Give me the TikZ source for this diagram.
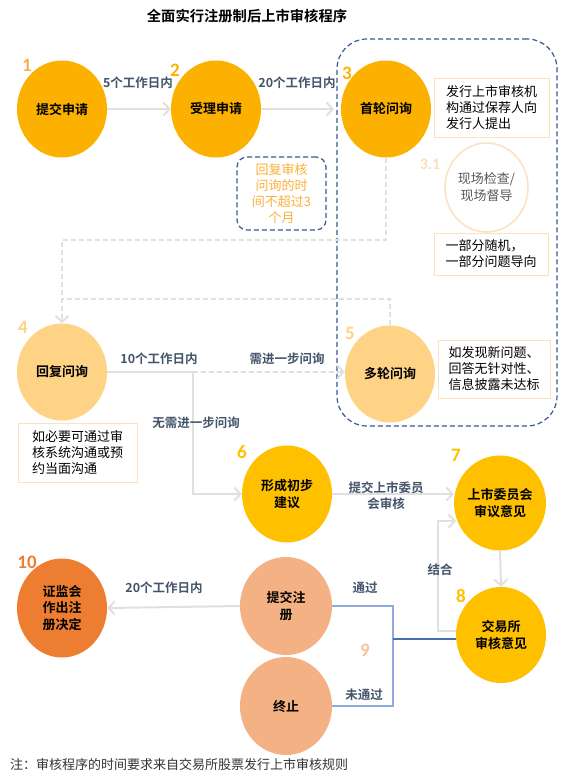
\documentclass[tikz,border=0pt]{standalone}
\usepackage{fontspec}
\setmainfont{Noto Sans CJK SC}[BoldFont={Noto Sans CJK SC Bold}]
\newfontfamily\numfont{Carlito}
\usetikzlibrary{shapes.geometric,arrows.meta}
\definecolor{amber}{HTML}{FCB000}
\definecolor{gold}{HTML}{FFC000}
\definecolor{lightor}{HTML}{FFD386}
\definecolor{peach}{HTML}{F4B183}
\definecolor{deepor}{HTML}{ED7D31}
\definecolor{labc}{HTML}{44546A}
\definecolor{grayc}{HTML}{E0E0E0}
\definecolor{boxc}{HTML}{FBE1BE}
\definecolor{navyd}{HTML}{3A5894}
\definecolor{blueA}{HTML}{8EA9DB}
\definecolor{blueB}{HTML}{4A6FB0}
\definecolor{numone}{HTML}{F9AE4F}
\definecolor{numlight}{HTML}{FCDDBE}
\definecolor{numnine}{HTML}{F8C3A0}
\definecolor{orgtext}{HTML}{FBAF38}
\begin{document}
\begin{tikzpicture}[x=1pt,y=-1pt,
  circ/.style={ellipse, minimum width=90pt, minimum height=97pt, inner sep=0pt,
    align=center, font=\bfseries\fontsize{13}{16.5}\selectfont, text=black},
  num/.style={font=\numfont\bfseries\fontsize{19}{19}\selectfont, inner sep=0pt},
  lab/.style={font=\bfseries\fontsize{12.5}{16}\selectfont, text=labc, align=center, inner sep=0pt},
  infobox/.style={draw=boxc, line width=1pt, align=left, inner sep=0pt,
    font=\fontsize{13}{16}\selectfont, text=black},
  tipA/.tip={Straight Barb[length=6pt,width=13pt]},
  garrow/.style={draw=grayc, line width=2pt, -tipA},
  gline/.style={draw=grayc, line width=2pt},
  gdash/.style={draw=grayc, line width=2pt, dash pattern=on 5pt off 3pt},
  bline/.style={draw=blueA, line width=1.1pt},
  bline2/.style={draw=blueB, line width=1.1pt},
  ndash/.style={draw=navyd, line width=1.2pt, dash pattern=on 5pt off 3pt}
]
\useasboundingbox (0,0) rectangle (562,776);

% title
\node[font=\bfseries\fontsize{14.3}{16}\selectfont] (title) at (247,16) {全面实行注册制后上市审核程序};

% group box
\node[ndash, rounded corners=30pt, minimum width=220pt, minimum height=387pt, inner sep=0pt] (grp) at (447,232.5) {};

% circles
\node[circ, fill=amber] (n1) at (62,109) {提交申请};
\node[circ, fill=amber] (n2) at (216,109) {受理申请};
\node[circ, fill=amber] (n3) at (386,109) {首轮问询};
\node[circ, fill=lightor] (n4) at (62,372) {回复问询};
\node[circ, fill=lightor] (n5) at (390,374) {多轮问询};
\node[circ, fill=gold] (n6) at (287,494) {形成初步\\建议};
\node[circ, fill=gold, minimum width=91pt, minimum height=95pt] (n7) at (500,503) {上市委员会\\审议意见};
\node[circ, fill=gold, minimum width=90pt, minimum height=96pt] (n8) at (501,635) {交易所\\审核意见};
\node[circ, fill=deepor, minimum height=99pt] (n10) at (62,608) {证监会\\作出注\\册决定};
\node[circ, fill=peach, minimum width=92pt, minimum height=98pt] (n9a) at (286,606) {提交注\\册};
\node[circ, fill=peach, minimum width=92pt, minimum height=98pt] (n9b) at (286,706) {终止};
\node[ellipse, draw=boxc, line width=1.5pt, fill=white, minimum width=83pt, minimum height=89pt,
  inner sep=0pt, align=center, font=\fontsize{13}{17}\selectfont, text=black!65] (n31) at (486.5,187.5) {现场检查/\\现场督导};

% numbers
\node[num, text=numone] (k1) at (27,65) {1};
\node[num, text=amber] (k2) at (175,70) {2};
\node[num, text=amber] (k3) at (347,73) {3};
\node[num, text=numlight, font=\numfont\bfseries\fontsize{16}{16}\selectfont] (k31) at (430,164) {3.1};
\node[num, text=lightor] (k4) at (23,327) {4};
\node[num, text=lightor] (k5) at (350,333) {5};
\node[num, text=gold] (k6) at (242,452) {6};
\node[num, text=gold] (k7) at (456,455) {7};
\node[num, text=gold] (k8) at (461,596) {8};
\node[num, text=numnine] (k9) at (365,650) {9};
\node[num, text=deepor] (k10) at (27,562) {10};

% info boxes
\node[infobox, minimum width=115pt, minimum height=59pt] (b1) at (491.5,107.5) {发行上市审核机\\构通过保荐人向\\发行人提出};
\node[infobox, minimum width=114pt, minimum height=42pt] (b2) at (491,254) {一部分随机，\\一部分问题导向};
\node[infobox, minimum width=112pt, minimum height=58pt] (b3) at (494,369) {如发现新问题、\\回答无针对性、\\信息披露未达标};
\node[infobox, minimum width=119pt, minimum height=59pt] (b4) at (77.5,452.5) {如必要可通过审\\核系统沟通或预\\约当面沟通};
\node[ndash, rounded corners=10pt, minimum width=89pt, minimum height=73pt, inner sep=0pt,
  align=center, text=orgtext, font=\fontsize{13}{16}\selectfont] (b5) at (281.5,193.5) {回复审核\\问询的时\\间不超过3\\个月};

% coordinates
\coordinate (j1) at (62,240);
\coordinate (j2) at (62,299);
\coordinate (j3) at (193,372);
\coordinate (j4) at (438,631);
\coordinate (j5) at (438,521);
\coordinate (j6) at (456,521);
\coordinate (j7) at (393,706);
\coordinate (j8) at (393,639);
\coordinate (j9) at (334,109);

% connectors
\draw[garrow] (n1.east) -- (n2.west);
\draw[garrow] (n2.east) -- (j9);
\draw[gdash, -tipA] (n3.south) |- (j1) -- (n4.north);
\draw[gdash] (n5.north) |- (j2);
\draw[gline] (n4.east |- j3) -- (j3);
\draw[gdash, -tipA] (j3) -- (j3 -| n5.west);
\draw[garrow] (j3) |- (n6.west);
\draw[garrow] (n6.east) -- (n6.east -| n7.west);
\draw[garrow] (n7.south) -- (n8.north);
\draw[garrow] (j4 -| n8.west) -- (j4) -- (j5) -- (j6);
\draw[garrow] (n9a.west) -- (n10.east);
\draw[bline] (n9a.east) -| (j7) -- (n9b.east);
\draw[bline2] (j8) -- (j8 -| n8.west);

% connector labels
\node[lab] (l1) at (138,83) {5个工作日内};
\node[lab] (l2) at (297,83) {20个工作日内};
\node[lab] (l3) at (159,359) {10个工作日内};
\node[lab] (l4) at (287,359) {需进一步问询};
\node[lab] (l5) at (196,423) {无需进一步问询};
\node[lab] (l6) at (386,496) {提交上市委员\\会审核};
\node[lab] (l7) at (440,570) {结合};
\node[lab] (l8) at (164,588) {20个工作日内};
\node[lab] (l9) at (365,588) {通过};
\node[lab] (l10) at (364,695) {未通过};

% footnote
\node[anchor=west, inner sep=0pt, font=\fontsize{13}{16}\selectfont, text=black!80] (foot) at (10,765) {注：审核程序的时间要求来自交易所股票发行上市审核规则};
\end{tikzpicture}
\end{document}
